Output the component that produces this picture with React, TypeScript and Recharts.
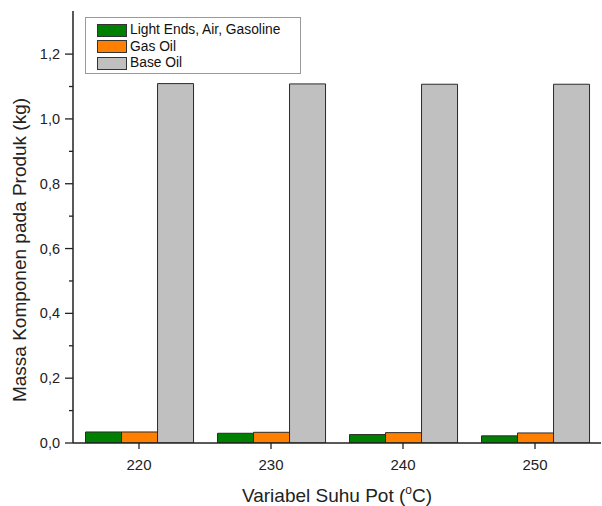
import React from 'react';
import { BarChart, Bar, XAxis, YAxis, Legend } from 'recharts';

const categories = ['220', '230', '240', '250'];
const lightEnds = [0.034, 0.030, 0.026, 0.022];
const gasOil = [0.034, 0.033, 0.032, 0.031];
const baseOil = [1.109, 1.108, 1.107, 1.107];

const seriesKeys = ['lightEnds', 'gasOil', 'baseOil'];
const seriesNames = ['Light Ends, Air, Gasoline', 'Gas Oil', 'Base Oil'];
const seriesColors = ['#008000', '#ff8000', '#c0c0c0'];

const yTicks = [0, 0.1, 0.2, 0.3, 0.4, 0.5, 0.6, 0.7, 0.8, 0.9, 1.0, 1.1, 1.2];
const yMax = 1.333;

const xTitle = 'Variabel Suhu Pot (';
const yTitle = 'Massa Komponen pada Produk (kg)';

const data = categories.map((c, i) => ({
  cat: c,
  lightEnds: lightEnds[i],
  gasOil: gasOil[i],
  baseOil: baseOil[i],
}));

const FONT = '"Liberation Sans", Arial, sans-serif';

const YTick = (props: any) => {
  const { x, y, payload } = props;
  const v = payload.value as number;
  const major = Math.round(v * 10) % 2 === 0;
  return (
    <g>
      <line x1={x - (major ? 8 : 4)} x2={x} y1={y} y2={y} stroke="#222" strokeWidth={1.3} />
      {major && (
        <text x={x - 13} y={y} textAnchor="end" dominantBaseline="central" fontFamily={FONT} fontSize={14.5} fill="#222">
          {v.toFixed(1).replace('.', ',')}
        </text>
      )}
    </g>
  );
};

const XTitle = (props: any) => {
  const vb = props.viewBox;
  const cx = vb.x + vb.width / 2;
  return (
    <text x={cx} y={vb.y + 59} textAnchor="middle" fontFamily={FONT} fontSize={19} fill="#222">
      <tspan>{xTitle}</tspan>
      <tspan fontSize={12} dy={-8}>o</tspan>
      <tspan dy={8}>C)</tspan>
    </text>
  );
};

const YTitle = (props: any) => {
  const vb = props.viewBox;
  const cx = vb.x + 18;
  const cy = 250;
  return (
    <text
      x={cx}
      y={cy}
      transform={`rotate(-90, ${cx}, ${cy})`}
      textAnchor="middle"
      dominantBaseline="central"
      fontFamily={FONT}
      fontSize={19}
      fill="#222"
    >
      {yTitle}
    </text>
  );
};

const LegendBox = () => (
  <div
    style={{
      border: '1px solid #9a9a9a',
      background: '#fff',
      padding: '4px 16px 4px 11px',
      fontFamily: FONT,
      fontSize: 13.8,
      color: '#111',
      boxSizing: 'border-box',
      width: 216,
      height: 57,
    }}
  >
    {seriesNames.map((n, i) => (
      <div key={n} style={{ display: 'flex', alignItems: 'center', height: 16.5 }}>
        <div
          style={{
            width: 30,
            height: 13,
            boxSizing: 'border-box',
            background: seriesColors[i],
            border: '1px solid #333',
            marginRight: 3,
          }}
        />
        <span style={{ lineHeight: '16px' }}>{n}</span>
      </div>
    ))}
  </div>
);

export default function App() {
  return (
    <div style={{ position: 'absolute', left: 0, top: 0, width: 602, height: 506, background: '#fff' }}>
      <BarChart
        width={602}
        height={506}
        data={data}
        margin={{ top: 11, right: 1, bottom: 0, left: 1 }}
        barCategoryGap="9.5%"
        barGap={0}
      >
        <XAxis
          dataKey="cat"
          height={63}
          tickSize={6}
          tickMargin={10}
          tick={{ fontFamily: FONT, fontSize: 15, fill: '#222' }}
          axisLine={{ stroke: '#222', strokeWidth: 1.5 }}
          tickLine={{ stroke: '#222', strokeWidth: 1.3 }}
          label={<XTitle />}
        />
        <XAxis
          xAxisId="top"
          dataKey="cat"
          orientation="top"
          height={0}
          tick={false}
          tickLine={false}
          axisLine={{ stroke: '#000', strokeWidth: 2.5 }}
        />
        <YAxis
          width={72}
          domain={[0, yMax]}
          ticks={yTicks}
          interval={0}
          tickSize={0}
          tickMargin={0}
          tick={<YTick />}
          tickLine={false}
          axisLine={{ stroke: '#222', strokeWidth: 1.5 }}
          allowDataOverflow
          label={<YTitle />}
        />
        <YAxis
          yAxisId="right"
          orientation="right"
          width={0}
          domain={[0, yMax]}
          tick={false}
          tickLine={false}
          axisLine={{ stroke: '#222', strokeWidth: 1.5 }}
        />
        <Legend
          layout="vertical"
          align="center"
          verticalAlign="middle"
          content={<LegendBox />}
          wrapperStyle={{ position: 'absolute', left: 85, top: 17, width: 216, height: 57 }}
        />
        {seriesKeys.map((k, i) => (
          <Bar
            key={k}
            dataKey={k}
            name={seriesNames[i]}
            fill={seriesColors[i]}
            stroke="#2a2a2a"
            strokeWidth={1}
            isAnimationActive={false}
          />
        ))}
      </BarChart>
    </div>
  );
}
